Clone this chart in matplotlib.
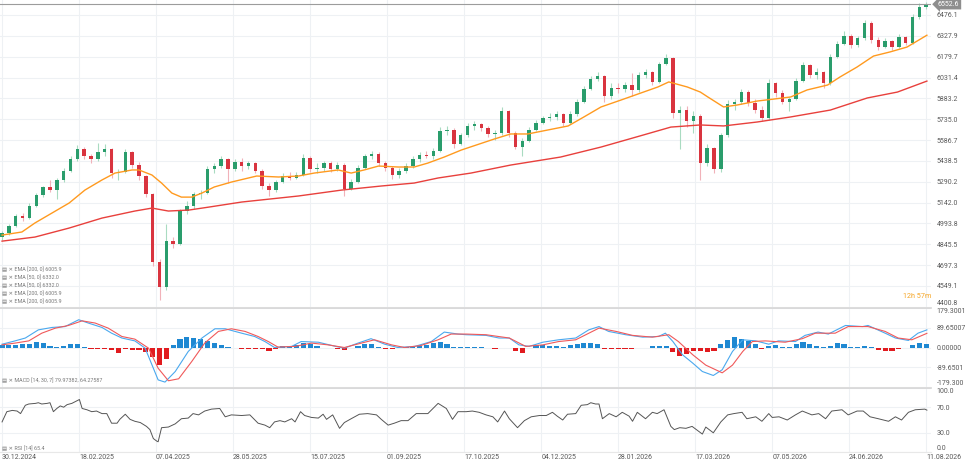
import numpy as np
import matplotlib
matplotlib.use("Agg")
import matplotlib.pyplot as plt

plt.rcParams['font.family'] = ['Roboto', 'DejaVu Sans']

# ---------------- data ----------------
opens = [4895,4925,4975,5045,5030,5120,5195,5250,5235,5300,5370,5455,5525,5470,5450,5500,5520,5350,5360,5500,
         5410,5330,5200,4720,4540,4870,4850,5080,5120,5200,5210,5380,5400,5450,5380,5430,5400,5420,5370,5260,
         5230,5290,5330,5320,5340,5460,5380,5390,5420,5380,5410,5240,5290,5390,5470,5490,5420,5390,5340,5370,
         5400,5450,5480,5470,5510,5650,5660,5560,5620,5690,5700,5670,5630,5640,5790,5640,5540,5580,5660,5710,
         5740,5750,5770,5710,5770,5860,5950,6020,6040,5900,5960,5950,5980,5940,6050,6070,6000,6130,6170,5780,
         5800,5720,5760,5420,5530,5380,5620,5840,5860,5930,5850,5800,5740,5990,5920,5860,5880,6010,6120,6050,
         6070,5990,6180,6270,6330,6260,6310,6420,6300,6250,6290,6250,6320,6280,6460,6530]
highs = [4940,4990,5060,5070,5140,5210,5260,5300,5320,5390,5470,5550,5535,5490,5565,5560,5530,5380,5520,5510,
         5430,5340,5210,4740,4990,4900,5100,5150,5220,5230,5400,5420,5470,5460,5450,5460,5440,5430,5380,5280,
         5300,5350,5360,5360,5490,5470,5420,5440,5440,5430,5420,5310,5410,5490,5510,5500,5440,5400,5390,5420,
         5470,5500,5510,5530,5680,5690,5670,5640,5710,5720,5710,5690,5660,5820,5800,5650,5600,5680,5730,5760,
         5780,5790,5780,5790,5880,5970,6040,6070,6050,5990,5990,6000,6060,6070,6090,6080,6140,6200,6180,5830,
         5830,5790,5770,5560,5540,5640,5870,5880,5950,5940,5880,5830,6020,6000,5940,5890,6030,6140,6130,6100,
         6080,6200,6290,6360,6340,6330,6440,6430,6320,6310,6300,6340,6330,6480,6560,6570]
lows = [4875,4915,4965,5010,5025,5110,5180,5220,5170,5290,5360,5440,5450,5420,5440,5470,5320,5300,5350,5390,
        5300,5180,4690,4450,4520,4820,4840,5060,5100,5170,5200,5350,5390,5280,5370,5370,5380,5350,5240,5190,
        5220,5280,5300,5310,5330,5360,5350,5370,5360,5370,5190,5230,5280,5380,5450,5400,5370,5310,5320,5350,
        5390,5430,5460,5450,5500,5620,5530,5550,5610,5660,5650,5610,5590,5620,5610,5520,5470,5570,5650,5700,
        5720,5730,5690,5700,5760,5850,5940,6010,5860,5880,5920,5930,5900,5930,6030,5980,5990,6120,5740,5520,
        5680,5640,5300,5400,5350,5360,5610,5800,5840,5830,5780,5720,5730,5890,5840,5790,5870,6000,6030,6020,
        5960,5980,6170,6260,6240,6250,6300,6280,6230,6240,6230,6240,6260,6270,6450,6520]
closes = [4925,4975,5045,5030,5120,5195,5250,5235,5300,5370,5455,5525,5470,5450,5500,5520,5350,5360,5500,5410,
          5330,5200,4720,4540,4870,4850,5080,5120,5200,5210,5380,5400,5450,5380,5430,5400,5420,5370,5260,5230,
          5290,5330,5320,5340,5460,5380,5390,5420,5380,5410,5240,5290,5390,5470,5490,5420,5390,5340,5370,5400,
          5450,5480,5470,5510,5650,5660,5560,5620,5690,5700,5670,5630,5640,5790,5640,5540,5580,5660,5710,5740,
          5750,5770,5710,5770,5860,5950,6020,6040,5900,5960,5950,5980,5940,6050,6070,6000,6130,6170,5780,5800,
          5720,5760,5420,5530,5380,5620,5840,5860,5930,5850,5800,5740,5990,5920,5860,5880,6010,6120,6050,6070,
          5990,6180,6270,6330,6260,6310,6420,6300,6250,6290,6250,6320,6280,6460,6530,6552.6]

ema50_x = [0,2.9,4.8,7.3,9.8,12.1,14.6,16.5,19.0,20.0,21.9,23.3,24.8,26.2,27.7,29.2,31.0,33.5,37.2,40.4,
           43.3,45.6,49.1,51.0,52.9,55.0,57.9,60.2,62.2,64.6,67.1,71.9,74.3,76.8,79.7,82.7,85.0,87.5,90.4,93.3,
           95.8,97.4,100.1,102.0,103.1,105.4,107.4,110.3,112.7,115.2,117.6,120.6,122.4,124.9,127.3,129.7,132.2,135.1]
ema50_v = [4911,4933,4997,5068,5139,5231,5303,5352,5374,5374,5338,5281,5210,5181,5181,5210,5253,5288,5331,5324,
           5331,5352,5374,5352,5374,5402,5395,5395,5423,5466,5516,5594,5630,5630,5658,5687,5751,5822,5871,5921,
           5964,6000,5964,5928,5893,5822,5836,5864,5878,5893,5943,5978,6035,6106,6184,6213,6248,6332]
ema200_x = [0,4.8,9.8,14.6,19.4,21.9,24.3,27.3,30.2,35.0,43.3,49.6,55.4,60.2,63.7,68.5,74.3,81.6,87.5,93.7,
            97.7,102.0,105.4,110.3,115.2,121.0,126.4,130.8,135.1]
ema200_v = [4868,4897,4961,5032,5082,5103,5082,5089,5110,5146,5189,5231,5260,5281,5317,5352,5409,5466,5537,5623,
            5679,5694,5687,5715,5751,5800,5886,5928,6005.9]

macd_x = [0,1.9,3.4,5.3,7.3,9.2,11.2,12.6,14.6,16.0,17.5,19.4,20.9,22.1,22.8,23.8,25.3,27.2,29.2,31.1,
          32.6,35.0,36.9,38.4,39.8,42.3,43.7,46.2,48.6,50.0,52.0,53.9,55.9,57.8,60.3,62.7,64.6,66.6,67.8,70.7,
          72.6,74.1,75.5,77.0,79.0,81.3,83.8,85.7,87.2,88.6,91.1,93.6,95.9,96.9,98.0,99.4,100.9,102.3,103.9,105.2,
          106.7,108.2,110.1,112.0,113.4,115.9,117.3,119.2,120.7,123.2,125.7,126.5,129.0,130.5,132.4,133.8,135.1]
macd_v = [15,30,43,80,91,95,126,111,91,65,43,30,-3,-94,-147,-157,-109,-18,43,85,
          85,65,50,27,0,5,27,24,6,-3,20,40,15,0,5,27,70,61,58,55,
          43,43,12,5,24,35,43,80,95,73,58,47,50,65,27,-33,-71,-109,-127,-101,
          -18,35,30,15,30,27,55,70,61,100,95,100,65,43,32,65,79.97]
sig_x = [0,1.9,3.9,5.8,7.8,9.7,11.7,13.6,15.5,17.5,19.4,21.4,22.8,24.3,25.8,27.7,29.6,31.6,33.5,35.5,
         37.4,38.9,40.3,42.8,45.2,47.6,50.0,52.5,54.4,56.9,58.8,61.2,63.7,65.6,67.8,70.7,74.1,76.5,79.0,81.3,
         83.8,87.2,89.7,92.1,95.0,97.4,98.8,100.9,102.8,105.2,106.7,108.2,109.6,111.5,114.4,116.9,118.8,121.7,123.6,126.5,
         129.0,130.9,132.9,135.1]
sig_v = [12,20,30,65,88,100,121,111,88,50,38,-3,-94,-151,-142,-64,20,73,85,73,
         50,27,2,5,20,12,0,20,35,12,0,9,35,61,61,58,43,5,12,27,
         35,88,73,55,47,58,27,-33,-80,-115,-80,-18,27,30,24,40,65,65,95,95,
         73,43,35,64.28]
hist = [12,12,12,15,18,24,20,9,4,9,15,17,2,-6,-8,-8,-12,-26,-8,-11,
        -12,-20,-45,-79,-50,12,40,47,45,39,30,22,10,4,-4,-6,-7,-6,-8,-18,
        -6,5,9,12,20,18,5,-3,-3,-8,-12,-4,5,15,17,4,-6,-8,-4,3,
        4,9,10,20,23,18,3,2,3,3,2,-4,-8,-2,-3,-18,-23,-3,12,10,
        6,5,2,10,18,21,20,15,-6,-8,-8,-7,-6,-3,-2,6,9,6,-20,-40,
        -30,-18,-16,-20,-14,15,35,48,40,28,15,-8,8,12,4,3,15,24,18,5,
        3,8,20,15,3,2,5,4,-10,-15,-14,-5,-3,12,20,18]

rsi_x = [0,0.7,1.5,2.2,2.7,3.4,3.9,4.9,5.3,5.8,6.6,7.0,7.5,8.0,8.5,9.0,9.5,10.2,11.3,11.7,
         12.4,13.1,13.8,14.6,15.3,16.0,16.8,17.2,18.0,18.7,19.4,20.2,21.1,21.6,22.1,22.6,22.8,23.3,24.3,25.3,
         26.2,27.2,27.9,28.7,29.6,30.6,31.8,32.6,33.5,35.0,36.2,37.4,38.4,39.1,39.8,40.6,41.3,42.3,42.8,43.6,
         44.2,45.2,46.2,46.9,47.4,48.3,49.3,50.0,51.0,52.2,53.4,54.7,55.4,56.4,57.3,58.3,59.3,60.5,62.2,63.7,
         64.9,65.8,66.6,67.8,68.7,69.7,70.7,71.7,72.4,73.4,74.1,75.3,76.3,77.3,78.5,79.5,80.4,81.1,81.9,82.6,
         83.8,84.6,85.5,86.0,86.7,87.2,87.7,88.7,89.7,90.6,91.6,92.1,92.8,94.0,95.0,95.7,96.7,97.7,98.2,99.0,
         99.9,100.8,101.8,102.3,102.8,103.9,105.0,106.0,106.9,108.1,108.8,110.1,111.0,112.0,112.5,113.5,114.7,115.9,116.9,118.3,
         119.3,120.3,121.2,122.7,123.6,124.9,125.8,126.8,128.0,129.5,130.5,131.4,132.4,133.4,134.8,135.1]
rsi_v = [47,63,65,64,60,73,75,76,77,75,76,77,63,68,72,70,74,76,82,68,
         66,63,64,60,60,45,45,51,59,51,48,46,40,35,21,17,16,38,39,44,
         52,53,60,58,64,67,68,55,58,57,58,45,42,38,47,49,47,52,47,63,
         57,54,53,59,51,58,37,46,52,59,60,58,51,42,45,49,49,60,60,76,
         68,51,63,63,64,62,58,55,47,64,52,38,49,55,57,57,62,56,50,59,
         60,73,74,77,75,75,52,60,55,62,56,48,62,52,62,60,66,40,35,38,
         37,40,32,28,39,30,47,58,60,62,52,55,48,60,54,55,50,58,64,58,
         60,52,64,66,58,64,64,55,52,48,55,50,62,66,67,65.4]

price_ticks = [4400.8,4549.1,4697.3,4845.5,4993.8,5142.0,5290.2,5438.5,5586.7,5735.0,5883.2,6031.4,6179.7,6327.9,6476.1]
macd_ticks = [179.3001, 89.65007, 0.0, -89.6501, -179.300]
macd_tick_labels = ["179.3001", "89.65007", "0.00000", "-89.6501", "-179.300"]
rsi_ticks = [100.0, 70.0, 30.0, 0.0]
date_labels = ["30.12.2024","18.02.2025","07.04.2025","28.05.2025","15.07.2025","01.09.2025","17.10.2025",
               "04.12.2025","28.01.2026","17.03.2026","07.05.2026","24.06.2026","11.08.2026"]
last_price = 6552.6

# ---------------- layout ----------------
W, H = 965, 465
fig = plt.figure(figsize=(W/100, H/100), dpi=100)
fig.patch.set_facecolor('white')

def rect(x0, y0, x1, y1):
    return [x0/W, 1 - y1/H, (x1 - x0)/W, (y1 - y0)/H]

ax1 = fig.add_axes(rect(0, 0, 931, 307))
ax2 = fig.add_axes(rect(0, 308, 931, 387))
ax3 = fig.add_axes(rect(0, 388, 931, 452))

n = len(closes)
idx = np.arange(n)
xt = np.linspace(0, n - 1, len(date_labels))
GRID = '#eef1f4'
LAB = '#5a5a5a'
FS = 5

for ax in (ax1, ax2, ax3):
    ax.set_xlim(-0.3, n - 0.3)
    ax.set_xticks(xt)
    ax.grid(True, color=GRID, lw=0.8, zorder=0)
    ax.set_axisbelow(True)
    ax.yaxis.tick_right()
    ax.tick_params(axis='y', length=0, pad=4, labelsize=FS, labelcolor=LAB)
    ax.tick_params(axis='x', length=0)
    for s in ax.spines.values():
        s.set_visible(False)
    ax.set_facecolor('white')

# ---------------- candles ----------------
o = np.array(opens); h = np.array(highs); l = np.array(lows); c = np.array(closes)
up = c >= o
GREEN, RED = '#2a9d6c', '#d9343f'
GW, RW = '#a9dbc1', '#f1b2b9'
ax1.vlines(idx[up], l[up], h[up], color=GW, lw=0.8, zorder=2)
ax1.vlines(idx[~up], l[~up], h[~up], color=RW, lw=0.8, zorder=2)
body_b = np.minimum(o, c)
body_h = np.maximum(np.abs(c - o), 5)
ax1.bar(idx[up], body_h[up], bottom=body_b[up], width=0.5, color=GREEN, zorder=3, lw=0)
ax1.bar(idx[~up], body_h[~up], bottom=body_b[~up], width=0.5, color=RED, zorder=3, lw=0)

ax1.plot(ema50_x, ema50_v, color='#ff9a1f', lw=1.0, zorder=4)
ax1.plot(ema200_x, ema200_v, color='#e8403c', lw=1.0, zorder=4)

ax1.axhline(last_price, color='#9c9c9c', lw=0.8, zorder=5)
ax1.set_ylim(4399.7, 6582.5)
ax1.set_yticks(price_ticks)
ax1.set_yticklabels([f"{v:.1f}" for v in price_ticks])
ax1.tick_params(axis='x', labelbottom=False)
ax1.annotate(f"{last_price:.1f}", xy=(1.0, last_price), xycoords=('axes fraction', 'data'),
             xytext=(5, 0), textcoords='offset points', ha='left', va='center',
             fontsize=FS, color='white', annotation_clip=False,
             bbox=dict(boxstyle='larrow,pad=0.25', fc='#8e8e8e', ec='none'))

leg = ["EMA [200, 0] 6005.9", "EMA [50, 0] 6332.0", "EMA [50, 0] 6332.0",
       "EMA [200, 0] 6005.9", "EMA [200, 0] 6005.9"]
for k, t in enumerate(leg):
    ypx = 270 + k * 7.8
    ax1.text(0.002, (307 - ypx) / 307, "▤ ✕ " + t, transform=ax1.transAxes,
             fontsize=3.9, color='#7a7a7a', va='center', ha='left')
ax1.text(1.0, (307 - 297) / 307, "12h 57m", transform=ax1.transAxes,
         fontsize=5.2, color='#f5a524', ha='right', va='center', clip_on=False)

# ---------------- MACD ----------------
hv = np.array(hist)
ax2.bar(idx, hv, width=0.75, color=np.where(hv >= 0, '#1e88d2', '#e11b1f'), zorder=2, lw=0)
ax2.plot(macd_x, macd_v, color='#4aa8ee', lw=0.8, zorder=3)
ax2.plot(sig_x, sig_v, color='#f0595a', lw=0.8, zorder=3)
ax2.set_ylim(-179.3, 179.3)
ax2.set_yticks(macd_ticks)
ax2.set_yticklabels(macd_tick_labels)
ax2.tick_params(axis='x', labelbottom=False)
ax2.spines['top'].set_visible(True)
ax2.spines['top'].set_color('#d5d5d5')
ax2.spines['top'].set_linewidth(1.2)
ax2.text(0.002, 0.08, "▤ ✕ MACD [14, 30, 7] 79.97382, 64.27587", transform=ax2.transAxes,
         fontsize=3.9, color='#7a7a7a', va='center', ha='left')

# ---------------- RSI ----------------
ax3.plot(rsi_x, rsi_v, color='#555555', lw=0.7, zorder=3)
ax3.set_ylim(0, 100)
ax3.set_yticks(rsi_ticks)
ax3.set_yticklabels([f"{v:.1f}" for v in rsi_ticks])
ax3.spines['top'].set_visible(True)
ax3.spines['top'].set_color('#d5d5d5')
ax3.spines['top'].set_linewidth(1.2)
ax3.spines['bottom'].set_visible(True)
ax3.spines['bottom'].set_color('#e8e8e8')
ax3.set_xticklabels(date_labels)
ax3.tick_params(axis='x', labelsize=FS, labelcolor=LAB, pad=1.5)
for t in ax3.get_xticklabels():
    t.set_ha('left')
ax3.text(0.002, 0.05, "▤ ✕ RSI [14] 65.4", transform=ax3.transAxes,
         fontsize=3.9, color='#7a7a7a', va='center', ha='left')

# edge labels alignment
ax1.get_yticklabels()[0].set_va('bottom')
ax2.get_yticklabels()[0].set_va('top')
ax2.get_yticklabels()[-1].set_va('bottom')
ax3.get_yticklabels()[0].set_va('top')
ax3.get_yticklabels()[-1].set_va('bottom')

fig.savefig("out.png", dpi=100, facecolor='white')
